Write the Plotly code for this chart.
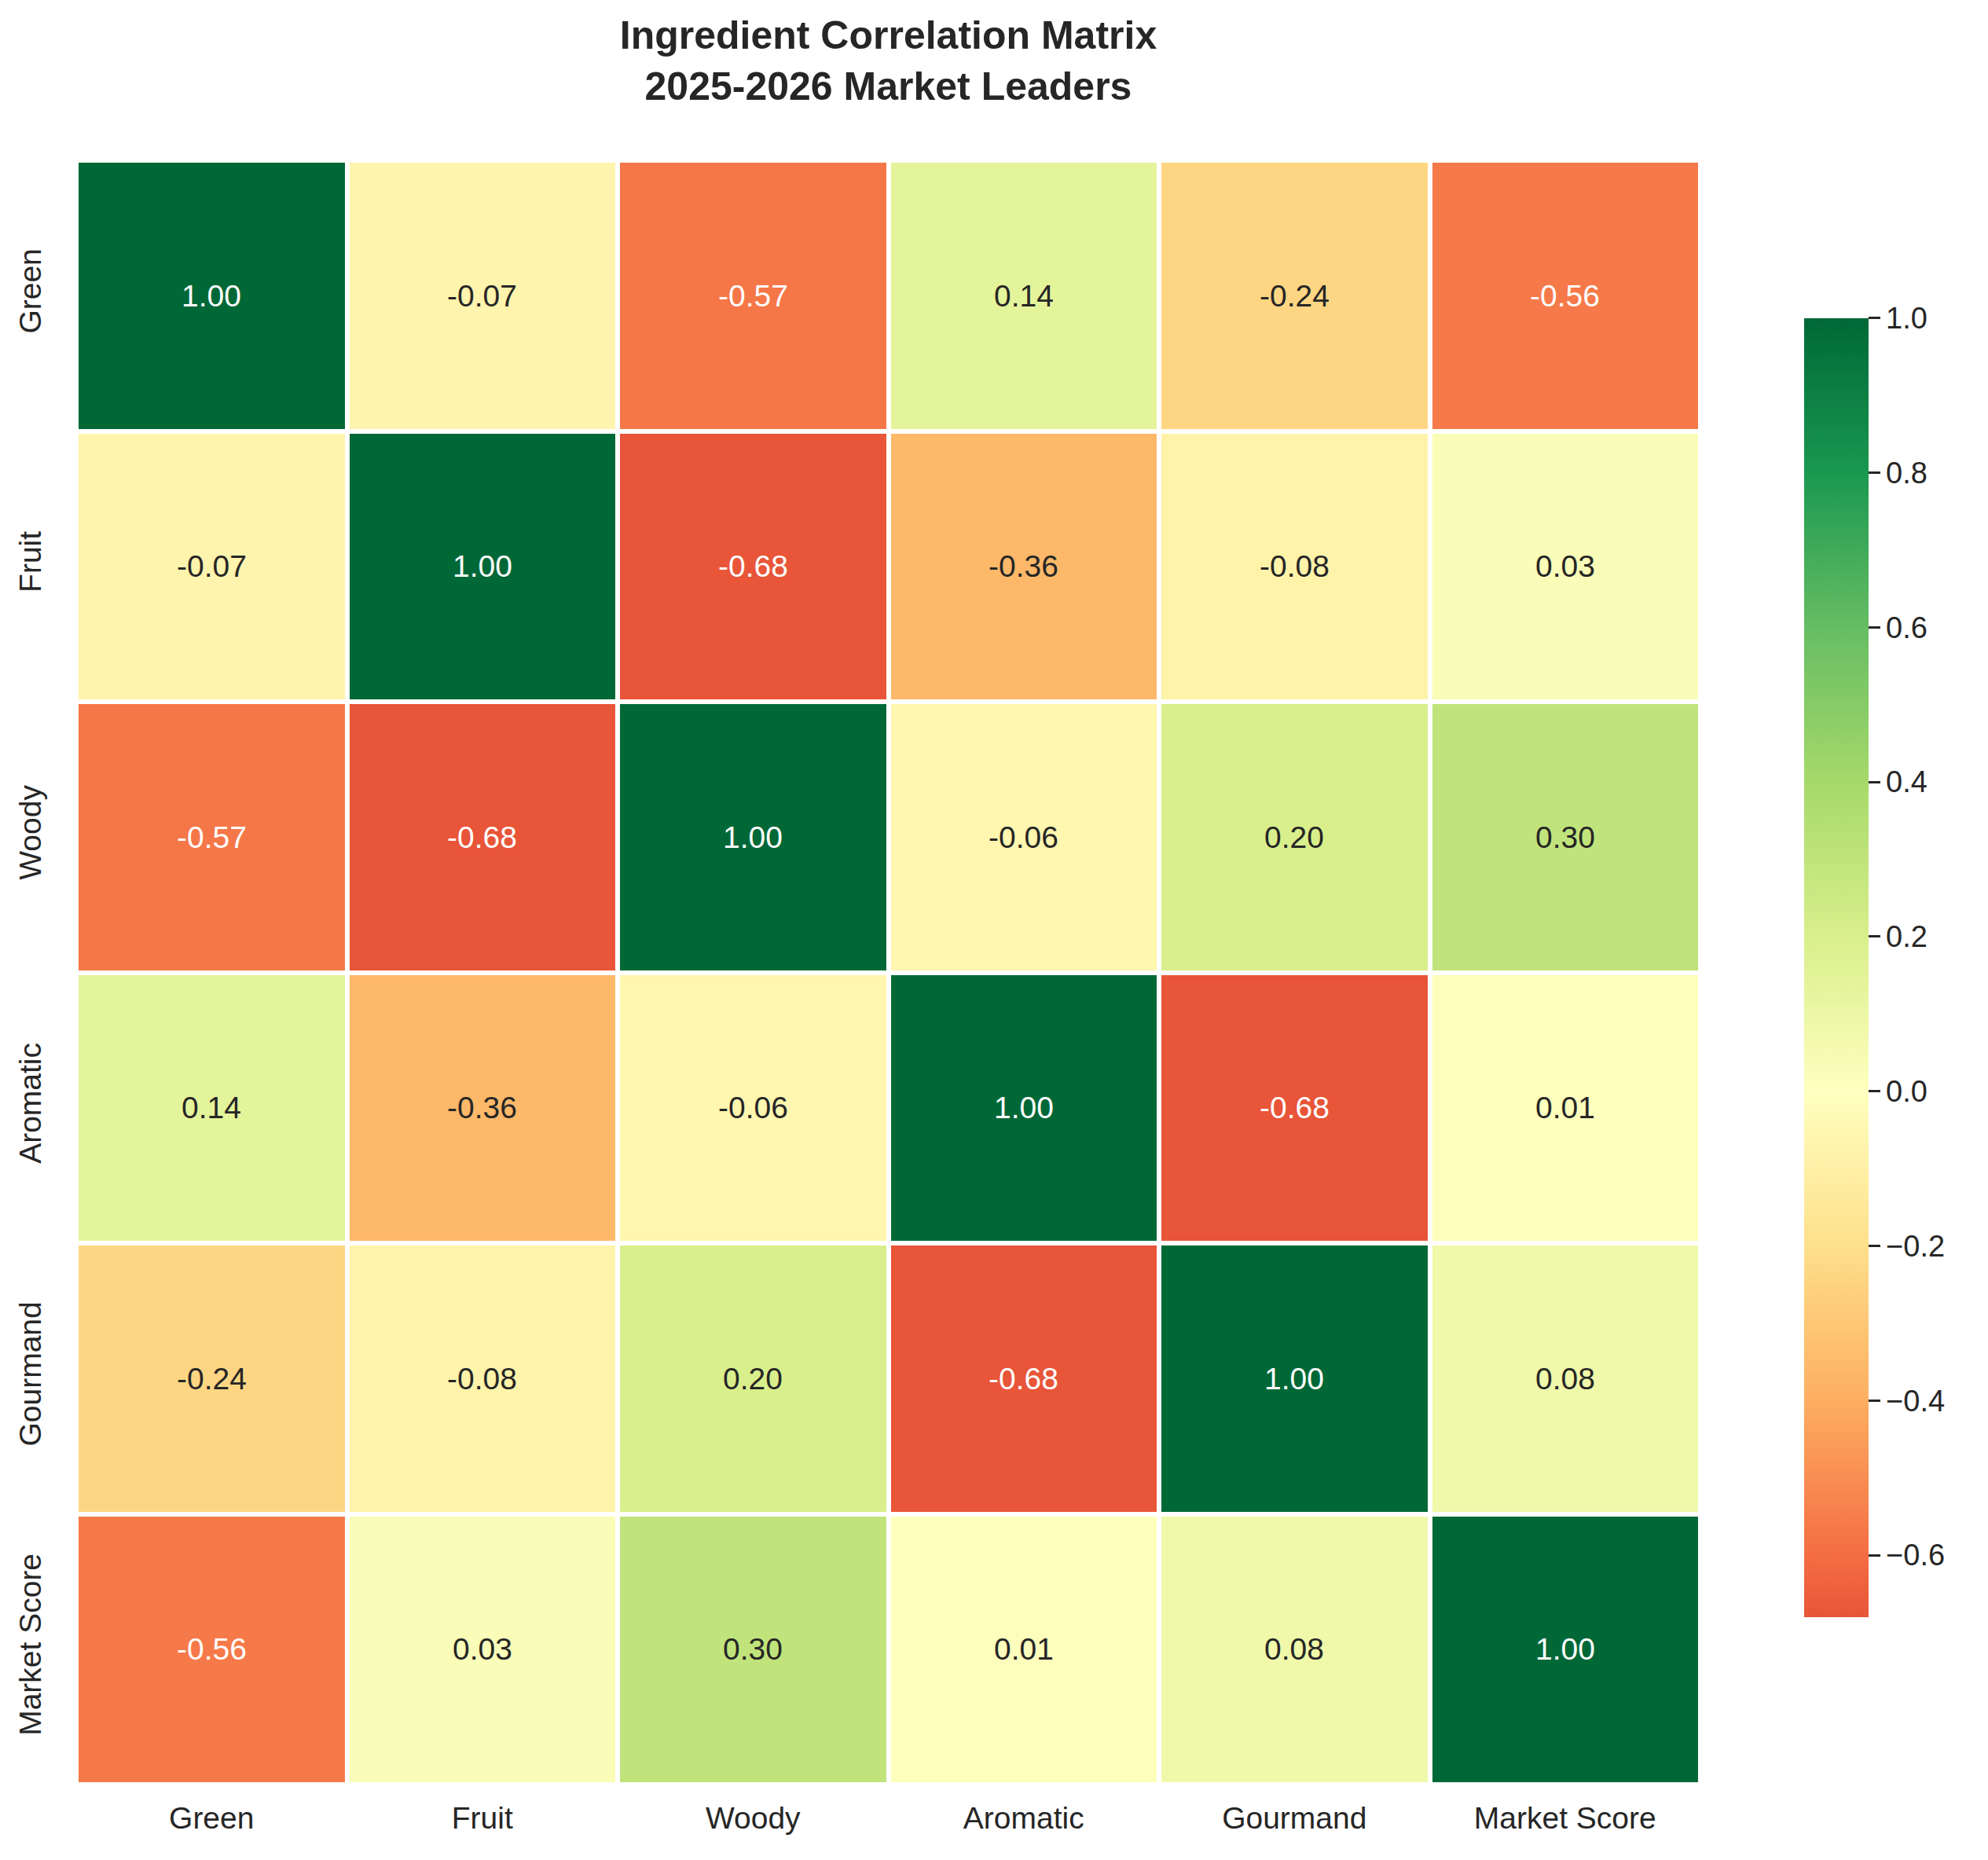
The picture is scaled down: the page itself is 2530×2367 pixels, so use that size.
import numpy as np
import plotly.graph_objects as go

# ingredient families (rows and columns are the same)
labels = ["Green", "Fruit", "Woody", "Aromatic", "Gourmand", "Market Score"]

# correlation rows, as read from the matrix
green = [1.00, -0.07, -0.57, 0.14, -0.24, -0.56]
fruit = [-0.07, 1.00, -0.68, -0.36, -0.08, 0.03]
woody = [-0.57, -0.68, 1.00, -0.06, 0.20, 0.30]
aromatic = [0.14, -0.36, -0.06, 1.00, -0.68, 0.01]
gourmand = [-0.24, -0.08, 0.20, -0.68, 1.00, 0.08]
market_score = [-0.56, 0.03, 0.30, 0.01, 0.08, 1.00]

cbar_ticks = [-0.6, -0.4, -0.2, 0.0, 0.2, 0.4, 0.6, 0.8, 1.0]

corr = np.array([green, fruit, woody, aromatic, gourmand, market_score])

# matplotlib RdYlGn knots (evenly spaced 0..1)
rdylgn = ["#a50026", "#d73027", "#f46d43", "#fdae61", "#fee08b", "#ffffbf",
          "#d9ef8b", "#a6d96a", "#66bd63", "#1a9850", "#006837"]
knots = np.array([[int(h[i:i + 2], 16) for i in (1, 3, 5)] for h in rdylgn], dtype=float)
knot_pos = np.linspace(0, 1, len(rdylgn))


def cmap(pos):
    return np.array([np.interp(pos, knot_pos, knots[:, c]) for c in range(3)])


def rgb_str(c):
    return "rgb(%d,%d,%d)" % tuple(np.round(c).astype(int))


# seaborn style centring at 0: value v sits at (v+1)/2 of the full map
zmin, zmax = corr.min(), corr.max()
stops = [zmin] + [2 * p - 1 for p in knot_pos if 2 * p - 1 > zmin]
colorscale = [[(v - zmin) / (zmax - zmin), rgb_str(cmap((v + 1) / 2))] for v in stops]


def text_color(v):
    rgb = cmap((v + 1) / 2) / 255.0
    lin = np.where(rgb <= 0.03928, rgb / 12.92, ((rgb + 0.055) / 1.055) ** 2.4)
    lum = 0.2126 * lin[0] + 0.7152 * lin[1] + 0.0722 * lin[2]
    return "#262626" if lum > 0.408 else "white"


FONT = "Liberation Sans, Arial, sans-serif"
DARK = "#262626"

fig = go.Figure(go.Heatmap(
    z=corr,
    x=labels,
    y=labels,
    zmin=zmin,
    zmax=zmax,
    colorscale=colorscale,
    xgap=6,
    ygap=6,
    hoverongaps=False,
    colorbar=dict(
        thickness=82,
        lenmode="pixels",
        len=1653,
        x=1.0639,
        xanchor="left",
        xpad=0,
        y=0.503,
        yanchor="middle",
        ypad=0,
        outlinewidth=0,
        tickvals=cbar_ticks,
        tickformat=".1f",
        ticks="outside",
        ticklen=15,
        tickwidth=3,
        tickcolor=DARK,
        tickfont=dict(family=FONT, size=38, color=DARK),
    ),
))

for i, row in enumerate(labels):
    for j, col in enumerate(labels):
        v = corr[i, j]
        fig.add_annotation(
            x=col, y=row, text=f"{v:.2f}", showarrow=False,
            font=dict(family=FONT, size=39, color=text_color(v)),
        )

fig.update_layout(
    width=2530,
    height=2367,
    margin=dict(l=89, r=374, t=196, b=104),
    paper_bgcolor="white",
    plot_bgcolor="white",
    font=dict(family=FONT, color=DARK),
    title=dict(
        text="<b>Ingredient Correlation Matrix<br>2025-2026 Market Leaders</b>",
        x=0.5,
        xref="paper",
        xanchor="center",
        y=1 - 54 / 2367,
        yanchor="top",
        font=dict(family=FONT, size=50, color=DARK),
    ),
    xaxis=dict(
        showgrid=False, zeroline=False, showline=False, automargin=False,
        ticks="outside", ticklen=8, tickcolor="rgba(0,0,0,0)",
        tickfont=dict(family=FONT, size=39, color=DARK),
    ),
    yaxis=dict(
        autorange="reversed", automargin=False,
        showgrid=False, zeroline=False, showline=False,
        ticks="outside", ticklen=28, tickcolor="rgba(0,0,0,0)",
        tickangle=-90,
        tickfont=dict(family=FONT, size=39, color=DARK),
    ),
)

fig.write_html("out.html")
